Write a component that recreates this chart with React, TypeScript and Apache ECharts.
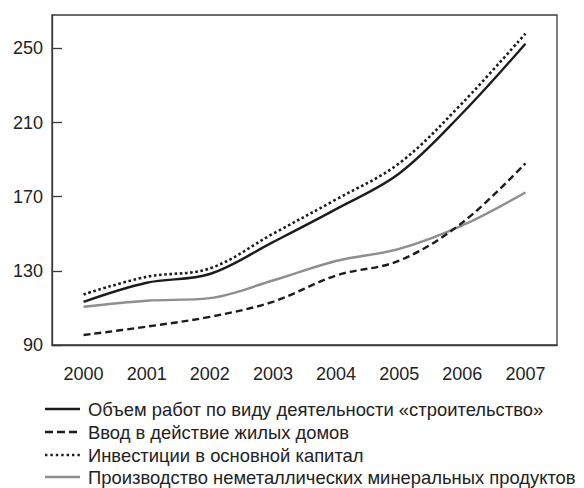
import React, { useEffect, useRef } from "react";
import * as echarts from "echarts";

const years = ["2000", "2001", "2002", "2003", "2004", "2005", "2006", "2007"];
const seriesNames = [
  "Объем работ по виду деятельности «строительство»",
  "Ввод в действие жилых домов",
  "Инвестиции в основной капитал",
  "Производство неметаллических минеральных продуктов",
];
const construction = [113.3, 123.6, 128.3, 145.5, 163.3, 182.5, 215, 252.5];
const housing = [95.4, 99.9, 105.2, 113.3, 127.5, 135.5, 156, 188];
const investment = [117.3, 126.8, 131.3, 150, 168.5, 188, 220.5, 258];
const minerals = [110.6, 113.9, 115.3, 124.8, 135.3, 141.8, 154.5, 172.3];

const FONT = "'Liberation Sans', Arial, sans-serif";

export default function App() {
  const ref = useRef<HTMLDivElement>(null);
  useEffect(() => {
    if (!ref.current) return;
    const chart = echarts.init(ref.current, undefined, { renderer: "svg" });
    const black = "#1c1c1c";
    const gray = "#8e8e8e";
    const styles = [
      { color: black, dash: null as number[] | null },
      { color: black, dash: [8, 4] },
      { color: black, dash: [2.4, 3] },
      { color: gray, dash: null },
    ];
    const rowY = [409, 432, 455, 477];
    const legendGraphics: any[] = [];
    seriesNames.forEach((name, i) => {
      legendGraphics.push({
        type: "line",
        shape: { x1: 45, y1: rowY[i], x2: 80, y2: rowY[i] },
        style: {
          stroke: styles[i].color,
          lineWidth: 2.4,
          lineDash: styles[i].dash || undefined,
        },
      });
      legendGraphics.push({
        type: "text",
        x: 88,
        y: rowY[i],
        style: {
          text: name,
          fontFamily: FONT,
          fontSize: 18.4,
          fill: "#222",
          verticalAlign: "middle",
          align: "left",
        },
      });
    });
    chart.setOption({
      animation: false,
      backgroundColor: "#ffffff",
      textStyle: { fontFamily: FONT },
      grid: {
        left: 52,
        right: 27,
        top: 15,
        bottom: 143,
        show: true,
        borderColor: "#3a3a3a",
        borderWidth: 1.3,
        containLabel: false,
      },
      graphic: legendGraphics,
      xAxis: {
        type: "category",
        data: years,
        boundaryGap: true,
        axisLine: { lineStyle: { color: "#3a3a3a", width: 1.3 } },
        axisTick: { inside: true, length: 10, lineStyle: { color: "#3a3a3a", width: 1.3 } },
        axisLabel: { fontFamily: FONT, fontSize: 18, color: "#222", margin: 20 },
        splitLine: { show: false },
      },
      yAxis: {
        type: "value",
        min: 90,
        max: 268,
        interval: 40,
        axisLine: { show: true, lineStyle: { color: "#3a3a3a", width: 1.3 } },
        axisTick: { show: true, inside: true, length: 10, lineStyle: { color: "#3a3a3a", width: 1.3 } },
        axisLabel: { fontFamily: FONT, fontSize: 18, color: "#222", margin: 9, showMaxLabel: false },
        splitLine: { show: false },
      },
      series: [
        {
          name: seriesNames[0],
          type: "line",
          data: construction,
          smooth: 0.35,
          symbol: "none",
          lineStyle: { color: black, width: 2.4, type: "solid" },
          itemStyle: { color: black },
          z: 4,
        },
        {
          name: seriesNames[1],
          type: "line",
          data: housing,
          smooth: 0.35,
          symbol: "none",
          lineStyle: { color: black, width: 2.4, type: [7, 4] },
          itemStyle: { color: black },
          z: 3,
        },
        {
          name: seriesNames[2],
          type: "line",
          data: investment,
          smooth: 0.35,
          symbol: "none",
          lineStyle: { color: black, width: 2.6, type: [2.6, 2.6] },
          itemStyle: { color: black },
          z: 3,
        },
        {
          name: seriesNames[3],
          type: "line",
          data: minerals,
          smooth: 0.35,
          symbol: "none",
          lineStyle: { color: gray, width: 2.4, type: "solid" },
          itemStyle: { color: gray },
          z: 2,
        },
      ],
    });
    return () => chart.dispose();
  }, []);
  return (
    <div
      ref={ref}
      style={{ position: "fixed", left: 0, top: 0, width: 584, height: 488, background: "#fff" }}
    />
  );
}
